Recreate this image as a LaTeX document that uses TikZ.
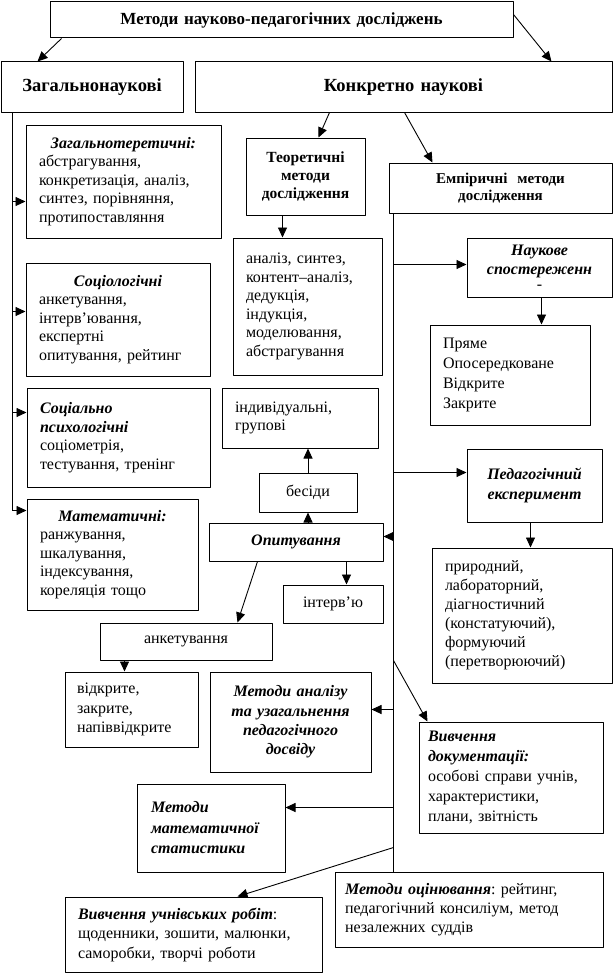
\documentclass[tikz,border=0pt]{standalone}
\usepackage{fontspec}
\setmainfont{Liberation Serif}
\usetikzlibrary{arrows.meta}
\newcommand{\bihd}[1]{{\bfseries\itshape #1}}
\newcommand{\midln}[1]{\makebox[\linewidth]{#1}}
\frenchspacing
\begin{document}
\begin{tikzpicture}[x=1pt, y=-1pt, line join=round, >={Triangle[length=10pt,width=9pt]},
	font=\fontsize{16}{18.6}\selectfont,
	bx/.style n args={3}{draw, line width=1pt, rectangle, minimum width=#1pt, minimum height=#2pt,
		inner xsep=#3pt, inner ysep=0pt, /utils/exec={\pgfmathsetmacro\bxtw{#1-2*#3}}, text width=\bxtw pt, align=left},
	bigfont/.style={font=\fontsize{18.5}{22}\selectfont\bfseries},
	midfont/.style={font=\fontsize{15.5}{18.3}\selectfont\bfseries},
	ln/.style={line width=0.9pt}]
	\useasboundingbox (0,0) rectangle (615,974);
	
	% top level
	\node[bx={463}{36}{8}, align=center, font=\fontsize{17}{20}\selectfont\bfseries] (top) at (281.5,20) {Методи науково-педагогічних досліджень};
	\node[bx={182}{50}{6}, align=center, bigfont] (zag) at (92,87) {Загальнонаукові};
	\node[bx={417}{50}{6}, align=center, bigfont] (konk) at (403.5,87) {Конкретно наукові};
	
	% left column
	\node[bx={195}{113}{13}] (zteor) at (123.5,181.5) {\midln{\bihd{Загальнотеретичні:}}\\ абстрагування,\\ конкретизація, аналіз,\\ синтез, порівняння,\\ протипоставляння};
	\node[bx={184}{113}{13}] (soc) at (118,319.5) {\midln{\bihd{Соціологічні}}\\ анкетування,\\ інтерв’ювання,\\ експертні\\ опитування, рейтинг};
	\node[bx={183}{99}{13}] (socpsy) at (118.5,437.5) {\bihd{Соціально\\ психологічні}\\ соціометрія,\\ тестування, тренінг};
	\node[bx={171}{111}{13}] (mat) at (112.5,554.5) {\midln{\bihd{Математичні:}}\\ ранжування,\\ шкалування,\\ індексування,\\ кореляція тощо};
	
	% theoretical
	\node[bx={119}{77}{6}, align=center, midfont] (teor) at (305.5,176.5) {Теоретичні\\ методи\\ дослідження};
	\node[bx={149}{137}{13}] (analiz) at (307.5,306.5) {аналіз, синтез,\\ контент–аналіз,\\ дедукція,\\ індукція,\\ моделювання,\\ абстрагування};
	
	% empirical
	\node[bx={223}{50}{6}, align=center, font=\fontsize{15}{17}\selectfont\bfseries] (emp) at (500.5,188) {Емпіричні\ \ методи\\ дослідження};
	\node[bx={145}{59}{6}, align=center] (nauk) at (539.5,267.5) {\bihd{Наукове\\ спостереженн}\\[-3pt] -};
	\node[bx={160}{100}{13}, font=\fontsize{16}{20}\selectfont] (pryame) at (510,375) {Пряме\\ Опосередковане\\ Відкрите\\ Закрите};
	\node[bx={156}{60}{13}] (indiv) at (300,418) {індивідуальні,\\ групові};
	\node[bx={98}{39}{4}, align=center] (besidy) at (308,492.5) {бесіди};
	\node[bx={135}{73}{6}, align=center, font=\fontsize{16}{20}\selectfont] (ped) at (534.5,485.5) {\bihd{Педагогічний\\ експеримент}};
	\node[bx={174}{38}{6}, align=center] (opyt) at (296,542) {\bihd{Опитування}};
	\node[bx={100}{38}{4}, align=center] (interv) at (333,604) {інтерв’ю};
	\node[bx={180}{135}{13}, font=\fontsize{16}{19}\selectfont] (pryrod) at (522,615.5) {природний,\\ лабораторний,\\ діагностичний\\ (констатуючий),\\ формуючий\\ (перетворюючий)};
	\node[bx={172}{37}{6}, align=center] (anket) at (186,641.5) {анкетування};
	\node[bx={133}{75}{12}, font=\fontsize{16}{19.5}\selectfont] (vidkr) at (131.5,709.5) {відкрите,\\ закрите,\\ напіввідкрите};
	\node[bx={161}{100}{6}, align=center, font=\fontsize{16}{19.3}\selectfont] (analdos) at (290.5,722) {\bihd{Методи аналізу\\ та узагальнення\\ педагогічного\\ досвіду}};
	\node[bx={184}{111}{9}, font=\fontsize{16}{20}\selectfont] (dokum) at (511,777.5) {\bihd{Вивчення\\ документації:}\\ особові справи учнів,\\ характеристики,\\ плани, звітність};
	\node[bx={148}{88}{14}, font=\fontsize{16}{20.5}\selectfont] (matstat) at (211,828) {\bihd{Методи\\ математичної\\ статистики}};
	\node[bx={268}{75}{10}, font=\fontsize{16}{19}\selectfont] (ocin) at (469,909.5) {\bihd{Методи оцінювання}: рейтинг,\\ педагогічний консиліум, метод\\ незалежних суддів};
	\node[bx={257}{75}{13}, font=\fontsize{16}{19.5}\selectfont] (uchn) at (193.5,934.5) {\bihd{Вивчення учнівських робіт}:\\ щоденники, зошити, малюнки,\\ саморобки, творчі роботи};
	
	% arrows from the top
	\draw[ln,->] ([xshift=12pt]top.south west) -- ([xshift=37pt]zag.north west);
	\draw[ln,->] ([yshift=-13pt]top.north east) -- ([xshift=357pt]konk.north west);
	\draw[ln,->] ([xshift=135pt]konk.south west) -- ([xshift=73pt]teor.north west);
	\draw[ln,->] ([xshift=210pt]konk.south west) -- ([xshift=44pt]emp.north west);
	\draw[ln,->] ([xshift=37pt]teor.south west) coordinate (t1) -- (t1 |- analiz.north);
	
	% left trunk
	\coordinate (zl) at ([xshift=12pt]zag.south west);
	\path ([yshift=-12pt]mat.north west) coordinate (zend);
	\draw[ln] (zl) -- (zl |- zend);
	\foreach \n/\d in {zteor/77,soc/49,socpsy/25,mat/12}{
		\path ([yshift=-\d pt]\n.north west) coordinate (t);
		\draw[ln,->] (zl |- t) -- (t);
	}
	
	% empirical trunk
	\coordinate (el) at ([xshift=5pt]emp.south west);
	\draw[ln] (el) -- (el |- ocin.north);
	\foreach \n/\d in {nauk/27,ped/24}{
		\path ([yshift=-\d pt]\n.north west) coordinate (t);
		\draw[ln,->] (el |- t) -- (t);
	}
	\foreach \n/\d in {opyt/14,analdos/38,matstat/24}{
		\path ([yshift=-\d pt]\n.north east) coordinate (t);
		\draw[ln,->] (el |- t) -- (t);
	}
	\draw[ln,->] (el |- anket.south) -- ([xshift=9pt]dokum.north west);
	\draw[ln,->] ([yshift=-634pt]el) -- ([xshift=173pt]uchn.north west);
	
	% inner arrows
	\draw[ln,->] ([xshift=2pt]nauk.south) coordinate (t2) -- (t2 |- pryame.north);
	\draw[ln,->] ([xshift=-4pt]ped.south) coordinate (t3) -- (t3 |- pryrod.north);
	\draw[ln,->] (besidy.south |- opyt.north) -- (besidy.south);
	\draw[ln,->] (besidy.north) -- (besidy.north |- indiv.south);
	\draw[ln,->] ([xshift=138pt]opyt.south west) coordinate (t4) -- (t4 |- interv.north);
	\draw[ln,->] ([xshift=49pt]opyt.south west) -- ([xshift=138pt]anket.north west);
	\draw[ln,->] ([xshift=25pt]anket.south west) coordinate (t5) -- (t5 |- vidkr.north);
\end{tikzpicture}
\end{document}
